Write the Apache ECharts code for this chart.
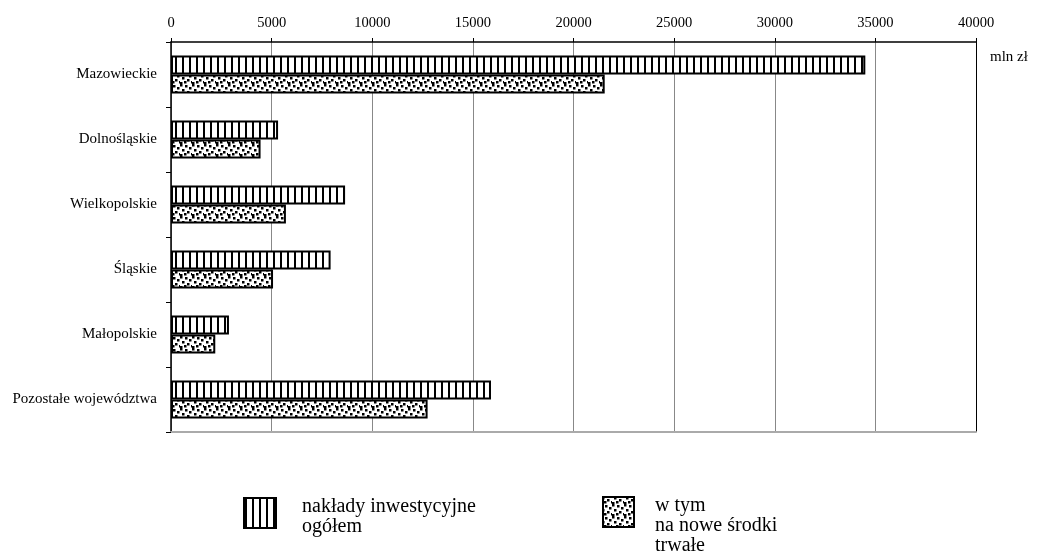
<!DOCTYPE html>
<html>
<head>
<meta charset="utf-8">
<script src="https://cdn.jsdelivr.net/npm/echarts@6/dist/echarts.min.js"></script>
<style>
  html, body { margin: 0; padding: 0; background: #fff; }
  #chart { width: 1041px; height: 560px; }
</style>
</head>
<body>
<div id="chart"></div>
<script>
// regions, top to bottom (axis is inverted)
const regions = ['Mazowieckie', 'Dolnośląskie', 'Wielkopolskie', 'Śląskie', 'Małopolskie', 'Pozostałe województwa'];
// mln zł
const totalOutlays = [34500, 5320, 8650, 7930, 2880, 15900];
const newFixedAssets = [21550, 4450, 5710, 5070, 2200, 12750];
const seriesNames = ['nakłady inwestycyjne\nogółem', 'w tym\nna nowe środki\ntrwałe'];
const unitLabel = 'mln zł';

const FONT = '"Liberation Serif", "DejaVu Serif", serif';

// fill patterns: vertical hatching and a speckle
function stripePattern() {
  const c = document.createElement('canvas');
  c.width = 7; c.height = 7;
  const g = c.getContext('2d');
  g.fillStyle = '#fff'; g.fillRect(0, 0, 7, 7);
  g.fillStyle = '#000'; g.fillRect(0, 0, 2, 7);
  return c;
}
function dotPattern() {
  const c = document.createElement('canvas');
  c.width = 12; c.height = 12;
  const g = c.getContext('2d');
  g.fillStyle = '#fff'; g.fillRect(0, 0, 12, 12);
  g.fillStyle = '#000';
  [[0, 0], [5, 1], [9, 3], [2, 5], [7, 7], [11, 9], [0, 10], [4, 9]]
    .forEach(([x, y]) => g.fillRect(x, y, 2.5, 2.5));
  return c;
}
const stripes = { image: stripePattern(), repeat: 'repeat' };
const dots = { image: dotPattern(), repeat: 'repeat' };

const chart = echarts.init(document.getElementById('chart'), null, { renderer: 'canvas' });

const gridColors = ['#888', '#888', '#888', '#888', '#888', '#888', '#888', '#888', '#000'];

// legend drawn as key boxes + text so the text can hang from the box top
function legendKey(x, y, w, fill, text, textX) {
  return [
    { type: 'rect', shape: { x: x, y: y, width: w, height: 30 },
      style: { fill: fill, stroke: '#000', lineWidth: 2 } },
    { type: 'text', x: textX, y: y - 1,
      style: { text: text, font: '20px ' + FONT, lineHeight: 20, fill: '#000' } }
  ];
}

chart.setOption({
  animation: false,
  textStyle: { fontFamily: FONT, color: '#000' },
  grid: { left: 171, right: 65, top: 42, bottom: 128 },
  xAxis: [
    {
      type: 'value', position: 'top',
      min: 0, max: 40000, interval: 5000,
      axisLine: { show: true, lineStyle: { color: '#000', width: 1.5 } },
      axisTick: { show: true, length: 4, lineStyle: { color: '#000' } },
      axisLabel: { fontFamily: FONT, fontSize: 14.5, color: '#000', margin: 11,
        formatter: (v) => String(v) },
      splitLine: { show: true, lineStyle: { color: gridColors, width: 1 } }
    },
    {
      type: 'value', position: 'bottom',
      min: 0, max: 40000,
      axisLine: { show: true, lineStyle: { color: '#aaa', width: 2 } },
      axisTick: { show: false }, axisLabel: { show: false }, splitLine: { show: false }
    }
  ],
  yAxis: {
    type: 'category', inverse: true,
    data: regions,
    axisLine: { show: true, lineStyle: { color: '#000', width: 1.5 } },
    axisTick: { show: true, length: 5, lineStyle: { color: '#000' } },
    axisLabel: { fontFamily: FONT, fontSize: 15, color: '#000', margin: 14 }
  },
  graphic: [
    { type: 'text', x: 990, y: 50,
      style: { text: unitLabel, font: '15px ' + FONT, fill: '#000' } },
    ...legendKey(244, 498, 32, stripes, seriesNames[0], 302),
    ...legendKey(603, 497, 31, dots, seriesNames[1], 655)
  ],
  series: [
    {
      name: seriesNames[0], type: 'bar', data: totalOutlays,
      barWidth: 19, barGap: '0%',
      itemStyle: { color: stripes, borderColor: '#000', borderWidth: 2 }
    },
    {
      name: seriesNames[1], type: 'bar', data: newFixedAssets,
      barWidth: 19, barGap: '0%',
      itemStyle: { color: dots, borderColor: '#000', borderWidth: 2 }
    }
  ]
});
</script>
</body>
</html>
